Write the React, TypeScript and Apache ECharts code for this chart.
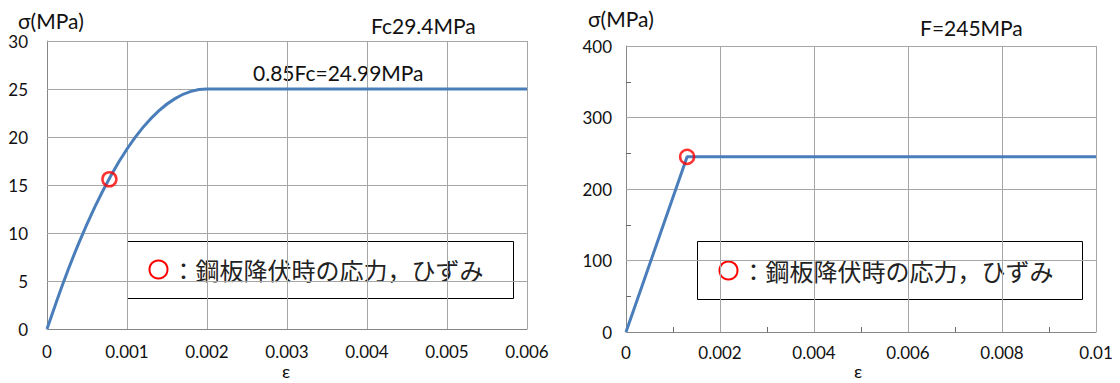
import { useEffect, useRef } from "react";
import * as echarts from "echarts";

// Concrete (left chart) stress-strain
const concreteStrain = [0, 0.0002, 0.0004, 0.0006, 0.0008, 0.001, 0.0012, 0.0014, 0.0016, 0.0018, 0.002, 0.006];
const concreteStress = [0, 4.75, 9.0, 12.75, 16.0, 18.75, 21.0, 22.75, 24.0, 24.75, 24.99, 24.99];
const concreteYield = [0.00078, 15.6];

// Steel (right chart)
const steelStrain = [0, 0.0013, 0.01];
const steelStress = [0, 245, 245];
const steelYield = [0.0013, 245];

const leftTitle = "Fc29.4MPa";
const leftNote = "0.85Fc=24.99MPa";
const rightTitle = "F=245MPa";
const yName = "σ(MPa)";
const xName = "ε";
const legendText = "：鋼板降伏時の応力，ひずみ";

const LINE = "#4a7ebb";
const GRID = "#a6a6a6";
const AXIS = "#868686";
const FONT = "Lato, 'Open Sans', sans-serif";
const TXT = "#111";

export default function App() {
  const ref = useRef<HTMLDivElement>(null);
  useEffect(() => {
    if (!ref.current) return;
    const chart = echarts.init(ref.current, null, { renderer: "svg" });
    const axisCommon = (min: number, max: number, interval: number, margin: number) => ({
      type: "value" as const,
      min,
      max,
      interval,
      axisLine: { show: true, lineStyle: { color: AXIS, width: 1 } },
      axisTick: { show: true, inside: true, length: 1, lineStyle: { color: GRID } },
      splitLine: { show: true, lineStyle: { color: GRID, width: 1 } },
      axisLabel: { color: TXT, fontSize: 17, fontFamily: FONT, margin },
    });
    const zip = (a: number[], b: number[]) => a.map((v, i) => [v, b[i]]);
    const txt = (text: string, left: number, top: number, size = 21) => ({
      type: "text",
      left,
      top,
      style: { text, fontSize: size, fontFamily: FONT, fill: TXT },
    });
    const minor = { show: true, splitNumber: 2, length: 5, lineStyle: { color: "#6a6a6a", width: 1 } };
    chart.setOption({
      animation: false,
      backgroundColor: "#fff",
      grid: [
        { left: 47, top: 41, width: 480, height: 288 },
        { left: 626, top: 46, width: 470, height: 286 },
      ],
      xAxis: [
        { ...axisCommon(0, 0.006, 0.001, 14), gridIndex: 0 },
        { ...axisCommon(0, 0.01, 0.002, 12), gridIndex: 1, minorTick: minor },
      ],
      yAxis: [
        { ...axisCommon(0, 30, 5, 19), gridIndex: 0 },
        { ...axisCommon(0, 400, 100, 14), gridIndex: 1, minorTick: minor },
      ],
      series: [
        {
          type: "line",
          xAxisIndex: 0,
          yAxisIndex: 0,
          data: zip(concreteStrain, concreteStress),
          smooth: 0.3,
          showSymbol: false,
          lineStyle: { color: LINE, width: 3 },
        },
        {
          type: "scatter",
          xAxisIndex: 0,
          yAxisIndex: 0,
          data: [concreteYield],
          symbol: "circle",
          symbolSize: 14,
          itemStyle: { color: "rgba(255,255,255,0)", borderColor: "#ff0000", borderWidth: 2.5 },
          z: 5,
        },
        {
          type: "line",
          xAxisIndex: 1,
          yAxisIndex: 1,
          data: zip(steelStrain, steelStress),
          showSymbol: false,
          lineStyle: { color: LINE, width: 3 },
        },
        {
          type: "scatter",
          xAxisIndex: 1,
          yAxisIndex: 1,
          data: [steelYield],
          symbol: "circle",
          symbolSize: 14,
          itemStyle: { color: "rgba(255,255,255,0)", borderColor: "#ff0000", borderWidth: 2.5 },
          z: 5,
        },
      ],
      graphic: [
        txt(yName, 18, 10),
        txt(leftTitle, 371, 15),
        txt(leftNote, 253, 62),
        txt(xName, 282, 362, 18),
        txt(yName, 588, 8),
        txt(rightTitle, 920, 17),
        txt(xName, 854, 362, 18),
        // legend boxes
        {
          type: "group",
          left: 127,
          top: 241,
          children: [
            { type: "rect", shape: { x: 0, y: 0, width: 386, height: 57 }, style: { fill: "#fff", stroke: "#000", lineWidth: 1 } },
            { type: "circle", shape: { cx: 31, cy: 28, r: 9 }, style: { fill: "none", stroke: "#ff0000", lineWidth: 2 } },
            { type: "text", x: 44, y: 28, style: { text: legendText, fontSize: 24, fontFamily: "'Noto Sans CJK JP'", fill: "#222", verticalAlign: "middle" } },
          ],
          z: 10,
        },
        {
          type: "group",
          left: 697,
          top: 241,
          children: [
            { type: "rect", shape: { x: 0, y: 0, width: 385, height: 58 }, style: { fill: "#fff", stroke: "#000", lineWidth: 1 } },
            { type: "circle", shape: { cx: 31, cy: 29, r: 9 }, style: { fill: "none", stroke: "#ff0000", lineWidth: 2 } },
            { type: "text", x: 44, y: 29, style: { text: legendText, fontSize: 24, fontFamily: "'Noto Sans CJK JP'", fill: "#222", verticalAlign: "middle" } },
          ],
          z: 10,
        },
      ],
    });
    return () => chart.dispose();
  }, []);
  return (
    <div style={{ position: "fixed", left: 0, top: 0, width: 1120, height: 383, background: "#fff" }}>
      <div ref={ref} style={{ width: 1120, height: 383 }} />
    </div>
  );
}
